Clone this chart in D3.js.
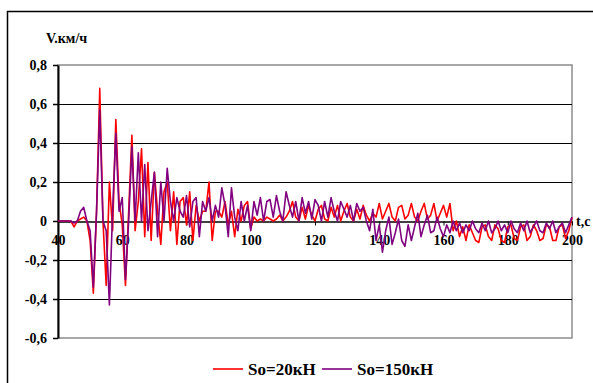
<!DOCTYPE html>
<html>
<head>
<meta charset="utf-8">
<script src="https://cdn.jsdelivr.net/npm/d3@7"></script>
<style>
  body { margin: 0; background: #fff; }
  svg { display: block; }
  text { font-family: 'Liberation Serif', 'Times New Roman', serif; font-weight: bold; }
</style>
</head>
<body>
<svg id="chart" width="593" height="383"></svg>
<script>
// time axis: one sample per second from 40 to 200 s
const startTime = 40
const xTicks = [40, 60, 80, 100, 120, 140, 160, 180, 200]
const yTicks = [-0.6, -0.4, -0.2, 0, 0.2, 0.4, 0.6, 0.8]

// So=20кН
const speed20 = [
  0, 0, 0, 0, 0, -0.03, 0, 0.01, 0.02, 0.0,
  -0.1, -0.37, 0.05, 0.68, 0.0, -0.33, 0.2, -0.05, 0.52, 0.1,
  -0.02, -0.33, 0.05, 0.44, -0.05, 0.1, 0.37, -0.08, 0.3, -0.1,
  0.25, 0.05, -0.12, 0.15, 0.2, -0.05, 0.15, -0.12, 0.1, 0.12,
  -0.02, 0.15, -0.1, 0.08, 0.0, 0.05, 0.05, 0.2, -0.1, 0.05,
  0.05, 0.02, 0.1, -0.02, 0.05, -0.08, 0.06, 0.0, 0.08, 0.1,
  -0.04, 0.02, 0.0, 0.01, 0.0, 0.02, 0.01, 0.0, 0.01, 0.03,
  0.0, 0.02, 0.05, 0.1, 0.02, 0.0, 0.07, 0.01, 0.08, 0.03,
  0.0, 0.06, 0.08, 0.01, 0.0, 0.07, 0.02, 0.08, 0.0, 0.05,
  0.09, 0.02, 0.0, 0.06, 0.01, 0.08, 0.03, 0.0, 0.04, 0.02,
  0.09, 0.01, 0.05, 0.09, 0.02, 0.0, 0.07, 0.08, 0.01, 0.03,
  0.09, 0.02, 0.0, 0.05, 0.09, 0.01, 0.03, 0.09, 0.0, 0.04,
  0.08, 0.02, 0.09, -0.05, 0.0, -0.08, -0.03, -0.1, -0.02, -0.06,
  -0.1, -0.11, -0.03, -0.02, -0.08, -0.1, -0.02, -0.04, -0.1, -0.11,
  -0.03, -0.02, -0.09, -0.1, -0.03, -0.02, -0.1, -0.08, -0.02, -0.05,
  -0.1, -0.09, -0.02, -0.03, -0.1, -0.1, -0.03, -0.02, -0.09, -0.05,
  0.02
]

// So=150кН
const speed150 = [
  0, 0, 0, 0, 0, -0.01, 0, 0.05, 0.07, 0.0,
  -0.05, -0.34, 0.05, 0.57, 0.0, -0.05, -0.43, 0.05, 0.45, 0.05,
  0.12, -0.3, 0.0, 0.38, 0.0, 0.35, 0.0, 0.29, -0.05, 0.1,
  0.25, -0.08, 0.2, 0.0, 0.27, 0.1, 0.0, 0.12, 0.05, 0.02,
  0.13, -0.03, 0.1, 0.12, -0.08, 0.1, 0.05, 0.12, 0.0, 0.08,
  0.02, 0.17, 0.08, -0.08, 0.17, 0.02, -0.05, 0.1, 0.0, 0.08,
  -0.05, 0.1, 0.03, 0.12, 0.0, 0.1, 0.11, 0.02, 0.13, 0.05,
  0.0, 0.15, 0.08, 0.02, 0.1, 0.0, 0.12, 0.04, 0.1, 0.01,
  0.11, 0.08, 0.0, 0.1, 0.02, 0.12, 0.05, 0.0, 0.1, 0.06,
  0.02, 0.08, 0.0, 0.09, 0.05, 0.07, 0.0, -0.05, 0.06, -0.1,
  -0.02, -0.16, -0.05, 0.02, -0.12, -0.06, 0.01, -0.1, -0.13, -0.02,
  -0.1, -0.03, 0.04, -0.08, -0.02, 0.03, -0.06, -0.05, 0.02, -0.04,
  -0.08, -0.02, -0.06, 0.0, -0.05, -0.01, -0.06, -0.02, -0.05, 0.0,
  -0.04, -0.06, -0.01, -0.05, 0.0, -0.06, -0.04, 0.0, -0.05, -0.02,
  -0.06, 0.0, -0.04, -0.06, -0.01, -0.05, 0.0, -0.06, -0.03, 0.0,
  -0.05, -0.06, -0.01, -0.04, 0.0, -0.06, -0.03, -0.01, -0.06, -0.02,
  0.02
]

const seriesNames = ['So=20кН', 'So=150кН']
const seriesColours = ['#ff0000', '#800080']

const svg = d3.select('#chart')

const x = d3.scaleLinear().domain([40, 200]).range([58, 572])
const y = d3.scaleLinear().domain([-0.6, 0.8]).range([338, 65])

const locale = d3.formatLocale({ decimal: ',', thousands: ' ', grouping: [3], currency: ['', ''], minus: '-' })
const fmt = (d) => (d === 0 ? '0' : locale.format('.1f')(d))

// outer frame (runs off the right and bottom edges like the original)
svg
  .append('rect')
  .attr('x', 7.5)
  .attr('y', 11.5)
  .attr('width', 620)
  .attr('height', 420)
  .attr('fill', 'none')
  .attr('stroke', '#000')
  .attr('stroke-width', 1.5)

// plot area border
svg
  .append('rect')
  .attr('x', x(40))
  .attr('y', y(0.8))
  .attr('width', x(200) - x(40))
  .attr('height', y(-0.6) - y(0.8))
  .attr('fill', 'none')
  .attr('stroke', '#8c8c8c')
  .attr('stroke-width', 1.5)

// gridlines
svg
  .append('g')
  .selectAll('line')
  .data(yTicks.filter((d) => d !== 0.8 && d !== -0.6 && d !== 0))
  .join('line')
  .attr('x1', x(40))
  .attr('x2', x(200))
  .attr('y1', (d) => Math.round(y(d)) + 0.5)
  .attr('y2', (d) => Math.round(y(d)) + 0.5)
  .attr('stroke', '#000')
  .attr('stroke-width', 1.2)

// y axis
const yAxis = svg
  .append('g')
  .attr('transform', `translate(${x(40)},0)`)
  .call(d3.axisLeft(y).tickValues(yTicks).tickSize(5).tickSizeOuter(0).tickPadding(6).tickFormat(fmt))
yAxis.select('.domain').attr('stroke', '#000').attr('stroke-width', 2)
yAxis.selectAll('.tick line').attr('stroke', '#000').attr('stroke-width', 1.5)
yAxis.selectAll('text').attr('font-size', 14).attr('fill', '#000').attr('font-family', null)

// x axis sits on the zero line
const xAxis = svg
  .append('g')
  .attr('transform', `translate(0,${Math.round(y(0)) + 0.5})`)
  .call(d3.axisBottom(x).tickValues(xTicks).tickSize(4).tickSizeOuter(0).tickPadding(10))
xAxis.select('.domain').attr('stroke', '#000').attr('stroke-width', 1.5)
xAxis.selectAll('.tick line').attr('stroke', '#000')
xAxis.selectAll('text').attr('font-size', 14).attr('fill', '#000').attr('font-family', null)

// axis titles
svg.append('text').attr('x', 46).attr('y', 43).attr('font-size', 14).text('V.км/ч')
svg.append('text').attr('x', 576).attr('y', 226).attr('font-size', 14).text('t,c')

// series lines
const line = d3
  .line()
  .x((d, i) => x(startTime + i))
  .y((d) => y(d))

svg
  .append('g')
  .selectAll('path')
  .data([speed20, speed150])
  .join('path')
  .attr('d', line)
  .attr('fill', 'none')
  .attr('stroke', (d, i) => seriesColours[i])
  .attr('stroke-width', 1.6)
  .attr('stroke-linejoin', 'round')

// legend
const legendX = [213, 322]
const legend = svg
  .append('g')
  .selectAll('g')
  .data(seriesNames)
  .join('g')
  .attr('transform', (d, i) => `translate(${legendX[i]},369)`)
legend
  .append('line')
  .attr('x1', 0)
  .attr('x2', 30)
  .attr('stroke', (d, i) => seriesColours[i])
  .attr('stroke-width', 1.6)
legend
  .append('text')
  .attr('x', 35)
  .attr('y', 6)
  .attr('font-size', 17)
  .text((d) => d)
</script>
</body>
</html>
